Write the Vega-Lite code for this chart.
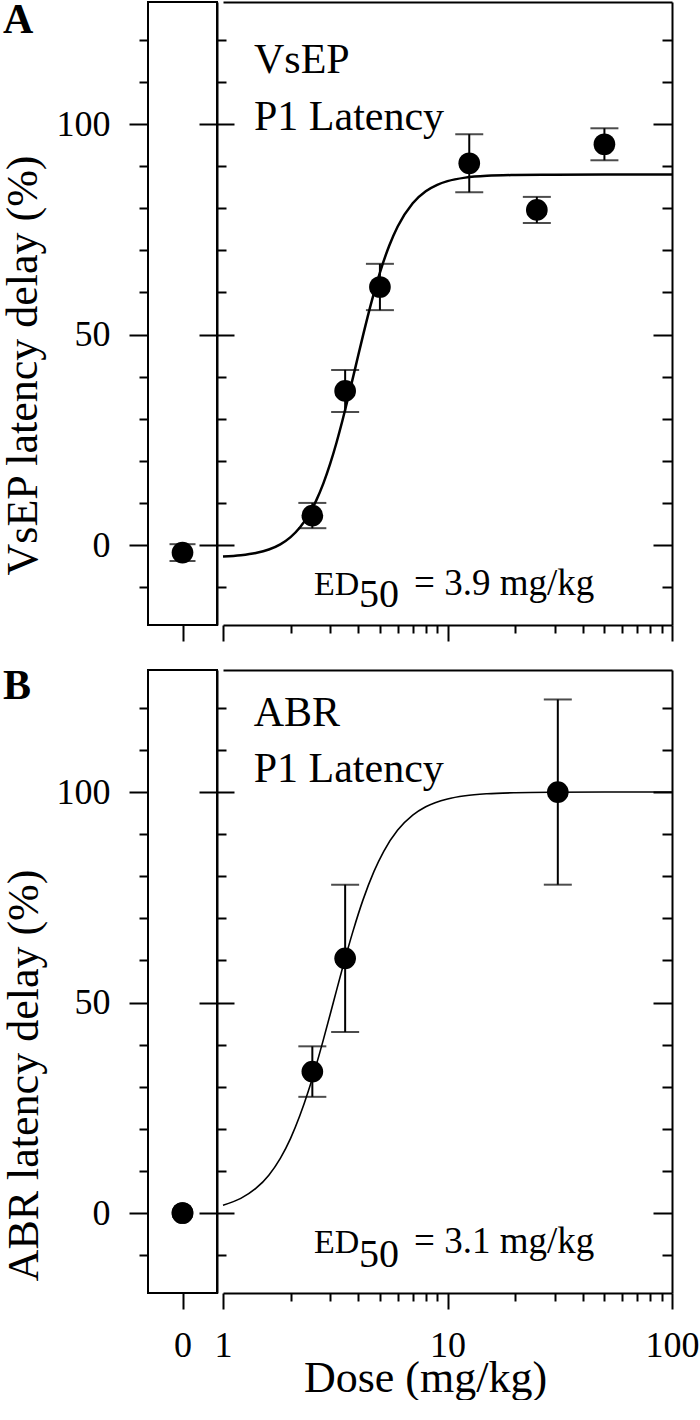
{
  "$schema": "https://vega.github.io/schema/vega-lite/v6.json",
  "padding": {"left": 0, "top": -2, "right": 0, "bottom": 0},
  "background": "white",
  "datasets": {
    "zeroA": [{"pos": 0, "val": -1.8, "lo": -3.8, "hi": 0.2}],
    "zeroB": [{"pos": 0, "val": 0, "lo": 0, "hi": 0}],
    "letterA": [{"label": "A", "pos": -5.2, "val": 121.6}],
    "letterB": [{"label": "B", "pos": -5.2, "val": 122.1}],
    "ptsA": [
      {"dose": 2.5, "val": 7, "lo": 4, "hi": 10},
      {"dose": 3.5, "val": 36.6, "lo": 31.6, "hi": 41.6},
      {"dose": 5, "val": 61.3, "lo": 55.8, "hi": 66.8},
      {"dose": 12.5, "val": 90.7, "lo": 83.8, "hi": 97.6},
      {"dose": 25, "val": 79.6, "lo": 76.5, "hi": 82.7},
      {"dose": 50, "val": 95.2, "lo": 91.4, "hi": 99}
    ],
    "ptsB": [
      {"dose": 2.5, "val": 33.6, "lo": 27.6, "hi": 39.6},
      {"dose": 3.5, "val": 60.5, "lo": 43, "hi": 78},
      {"dose": 31, "val": 100, "lo": 78, "hi": 122}
    ],
    "curveA": [
      {"dose": 1, "val": -2.74}, {"dose": 1.2, "val": -2.43}, {"dose": 1.4, "val": -1.9}, {"dose": 1.6, "val": -1.07},
      {"dose": 1.8, "val": 0.16}, {"dose": 2, "val": 1.87}, {"dose": 2.2, "val": 4.15}, {"dose": 2.4, "val": 7.03},
      {"dose": 2.6, "val": 10.55}, {"dose": 2.8, "val": 14.64}, {"dose": 3, "val": 19.25}, {"dose": 3.2, "val": 24.24},
      {"dose": 3.4, "val": 29.45}, {"dose": 3.6, "val": 34.74}, {"dose": 3.9, "val": 42.5}, {"dose": 4.2, "val": 49.69},
      {"dose": 4.6, "val": 58.0}, {"dose": 5, "val": 64.73}, {"dose": 5.5, "val": 71.1}, {"dose": 6, "val": 75.66},
      {"dose": 7, "val": 81.2}, {"dose": 8, "val": 84.04}, {"dose": 9, "val": 85.57}, {"dose": 10, "val": 86.44},
      {"dose": 12, "val": 87.28}, {"dose": 15, "val": 87.72}, {"dose": 20, "val": 87.9}, {"dose": 30, "val": 87.98},
      {"dose": 50, "val": 88}, {"dose": 100, "val": 88}
    ],
    "curveB": [
      {"dose": 1, "val": 1.87}, {"dose": 1.2, "val": 3.48}, {"dose": 1.4, "val": 5.83}, {"dose": 1.6, "val": 8.99},
      {"dose": 1.8, "val": 12.98}, {"dose": 2, "val": 17.74}, {"dose": 2.2, "val": 23.15}, {"dose": 2.4, "val": 28.99},
      {"dose": 2.6, "val": 35.08}, {"dose": 2.8, "val": 41.19}, {"dose": 3.1, "val": 50}, {"dose": 3.4, "val": 58.02},
      {"dose": 3.8, "val": 67.09}, {"dose": 4.2, "val": 74.33}, {"dose": 4.7, "val": 81.1}, {"dose": 5.2, "val": 85.94},
      {"dose": 6, "val": 90.98}, {"dose": 7, "val": 94.53}, {"dose": 8, "val": 96.51}, {"dose": 10, "val": 98.37},
      {"dose": 12, "val": 99.13}, {"dose": 15, "val": 99.6}, {"dose": 20, "val": 99.85}, {"dose": 30, "val": 99.96},
      {"dose": 50, "val": 100}, {"dose": 100, "val": 100}
    ],
    "bigA": [{"label": "VsEP", "dose": 1.374, "val": 112.1}, {"label": "P1 Latency", "dose": 1.374, "val": 98.6}],
    "bigB": [{"label": "ABR", "dose": 1.37, "val": 115.7}, {"label": "P1 Latency", "dose": 1.37, "val": 102.4}],
    "edA": [{"label": "ED", "dose": 2.543, "val": -11.9}],
    "subA": [{"label": "50", "dose": 4.035, "val": -14.7}],
    "restA": [{"label": "= 3.9 mg/kg", "dose": 7.094, "val": -11.9}],
    "edB": [{"label": "ED", "dose": 2.543, "val": -9.5}],
    "subB": [{"label": "50", "dose": 4.035, "val": -12.9}],
    "restB": [{"label": "= 3.1 mg/kg", "dose": 7.094, "val": -9.5}]
  },
  "vconcat": [
    {
      "bounds": "flush",
      "spacing": 6,
      "hconcat": [
        {
          "width": 69, "height": 623,
          "view": {"stroke": "black", "strokeWidth": 2},
          "data": {"name": "zeroA"},
          "layer": [
            {"mark": {"type": "rule", "color": "black", "strokeWidth": 2},
             "encoding": {
               "x": {"field": "pos", "type": "quantitative", "scale": {"domain": [-1, 1], "nice": false, "zero": false},
                     "axis": {"orient": "bottom", "values": [0], "tickSize": 16, "labels": false, "domain": false, "title": null}},
               "y": {"field": "lo", "type": "quantitative", "scale": {"domain": [-19, 129], "nice": false, "zero": false},
                     "axis": {"orient": "left", "values": [-10, 0, 10, 20, 30, 40, 50, 60, 70, 80, 90, 100, 110, 120],
                              "tickSize": {"expr": "datum.value % 50 === 0 ? 19 : 9"},
                              "labelExpr": "datum.value % 50 === 0 ? datum.label : ''",
                              "labelPadding": 19, "labelFontSize": 36, "domain": false,
                              "title": "VsEP latency delay (%)", "titleFontSize": 44, "titleX": -112, "titleY": 363,
                              "titleBaseline": "alphabetic", "titleAngle": 270, "titleAlign": "center"}},
               "y2": {"field": "hi"}
             }},
            {"mark": {"type": "tick", "orient": "horizontal", "color": "black", "size": 26, "thickness": 2},
             "encoding": {
               "x": {"field": "pos", "type": "quantitative", "scale": {"domain": [-1, 1], "nice": false, "zero": false}, "axis": null},
               "y": {"field": "lo", "type": "quantitative", "scale": {"domain": [-19, 129], "nice": false, "zero": false}, "axis": null}
             }},
            {"mark": {"type": "tick", "orient": "horizontal", "color": "black", "size": 26, "thickness": 2},
             "encoding": {
               "x": {"field": "pos", "type": "quantitative", "scale": {"domain": [-1, 1], "nice": false, "zero": false}, "axis": null},
               "y": {"field": "hi", "type": "quantitative", "scale": {"domain": [-19, 129], "nice": false, "zero": false}, "axis": null}
             }},
            {"mark": {"type": "circle", "color": "black", "size": 470, "opacity": 1},
             "encoding": {
               "x": {"field": "pos", "type": "quantitative", "scale": {"domain": [-1, 1], "nice": false, "zero": false}, "axis": null},
               "y": {"field": "val", "type": "quantitative", "scale": {"domain": [-19, 129], "nice": false, "zero": false},
                     "axis": {"orient": "right", "values": [0, 50, 100], "tickSize": {"expr": "-18"}, "labels": false, "domain": false, "title": null}}
             }},
            {"data": {"name": "letterA"},
             "mark": {"type": "text", "align": "left", "baseline": "alphabetic", "fontSize": 42, "fontWeight": "bold", "font": "Liberation Serif", "color": "black"},
             "encoding": {
               "x": {"field": "pos", "type": "quantitative", "scale": {"domain": [-1, 1], "nice": false, "zero": false}, "axis": null},
               "y": {"field": "val", "type": "quantitative", "scale": {"domain": [-19, 129], "nice": false, "zero": false}, "axis": null},
               "text": {"field": "label"}
             }}
          ],
          "resolve": {"axis": {"x": "independent", "y": "independent"}}
        },
        {
          "width": 449, "height": 623,
          "layer": [
            {"data": {"name": "curveA"},
             "mark": {"type": "line", "color": "black", "strokeWidth": 2.5, "interpolate": "monotone"},
             "encoding": {
               "x": {"field": "dose", "type": "quantitative", "scale": {"type": "log", "domain": [1, 100], "nice": false},
                     "axis": {"orient": "bottom", "values": [1, 2, 3, 4, 5, 6, 7, 8, 9, 10, 20, 30, 40, 50, 60, 70, 80, 90, 100],
                              "tickSize": {"expr": "datum.value == 1 || datum.value == 10 || datum.value == 100 ? 16 : 8"},
                              "labels": false, "domain": true, "title": null}},
               "y": {"field": "val", "type": "quantitative", "scale": {"domain": [-19, 129], "nice": false, "zero": false},
                     "axis": {"orient": "left", "offset": 6, "values": [-10, 0, 10, 20, 30, 40, 50, 60, 70, 80, 90, 100, 110, 120],
                              "tickSize": {"expr": "datum.value % 50 === 0 ? -17 : -9"}, "labels": false, "domain": true, "title": null}}
             }},
            {"data": {"name": "ptsA"},
             "mark": {"type": "rule", "color": "black", "strokeWidth": 2},
             "encoding": {
               "x": {"field": "dose", "type": "quantitative", "scale": {"type": "log", "domain": [1, 100], "nice": false},
                     "axis": {"orient": "top", "ticks": false, "labels": false, "domain": true, "title": null}},
               "y": {"field": "lo", "type": "quantitative", "scale": {"domain": [-19, 129], "nice": false, "zero": false},
                     "axis": {"orient": "right", "values": [-10, 0, 10, 20, 30, 40, 50, 60, 70, 80, 90, 100, 110, 120],
                              "tickSize": {"expr": "datum.value % 50 === 0 ? -19 : -10"}, "labels": false, "domain": true, "title": null}},
               "y2": {"field": "hi"}
             }},
            {"data": {"name": "ptsA"},
             "mark": {"type": "tick", "orient": "horizontal", "color": "black", "size": 28, "thickness": 2},
             "encoding": {
               "x": {"field": "dose", "type": "quantitative", "scale": {"type": "log", "domain": [1, 100], "nice": false}, "axis": null},
               "y": {"field": "lo", "type": "quantitative", "scale": {"domain": [-19, 129], "nice": false, "zero": false}, "axis": null}
             }},
            {"data": {"name": "ptsA"},
             "mark": {"type": "tick", "orient": "horizontal", "color": "black", "size": 28, "thickness": 2},
             "encoding": {
               "x": {"field": "dose", "type": "quantitative", "scale": {"type": "log", "domain": [1, 100], "nice": false}, "axis": null},
               "y": {"field": "hi", "type": "quantitative", "scale": {"domain": [-19, 129], "nice": false, "zero": false}, "axis": null}
             }},
            {"data": {"name": "ptsA"},
             "mark": {"type": "circle", "color": "black", "size": 470, "opacity": 1},
             "encoding": {
               "x": {"field": "dose", "type": "quantitative", "scale": {"type": "log", "domain": [1, 100], "nice": false}, "axis": null},
               "y": {"field": "val", "type": "quantitative", "scale": {"domain": [-19, 129], "nice": false, "zero": false}, "axis": null}
             }},
            {"data": {"name": "bigA"},
             "mark": {"type": "text", "align": "left", "baseline": "alphabetic", "fontSize": 42, "font": "Liberation Serif", "color": "black"},
             "encoding": {
               "x": {"field": "dose", "type": "quantitative", "scale": {"type": "log", "domain": [1, 100], "nice": false}, "axis": null},
               "y": {"field": "val", "type": "quantitative", "scale": {"domain": [-19, 129], "nice": false, "zero": false}, "axis": null},
               "text": {"field": "label"}
             }},
            {"data": {"name": "edA"},
             "mark": {"type": "text", "align": "left", "baseline": "alphabetic", "fontSize": 34, "font": "Liberation Serif", "color": "black"},
             "encoding": {
               "x": {"field": "dose", "type": "quantitative", "scale": {"type": "log", "domain": [1, 100], "nice": false}, "axis": null},
               "y": {"field": "val", "type": "quantitative", "scale": {"domain": [-19, 129], "nice": false, "zero": false}, "axis": null},
               "text": {"field": "label"}
             }},
            {"data": {"name": "subA"},
             "mark": {"type": "text", "align": "left", "baseline": "alphabetic", "fontSize": 40, "font": "Liberation Serif", "color": "black"},
             "encoding": {
               "x": {"field": "dose", "type": "quantitative", "scale": {"type": "log", "domain": [1, 100], "nice": false}, "axis": null},
               "y": {"field": "val", "type": "quantitative", "scale": {"domain": [-19, 129], "nice": false, "zero": false}, "axis": null},
               "text": {"field": "label"}
             }},
            {"data": {"name": "restA"},
             "mark": {"type": "text", "align": "left", "baseline": "alphabetic", "fontSize": 37, "font": "Liberation Serif", "color": "black"},
             "encoding": {
               "x": {"field": "dose", "type": "quantitative", "scale": {"type": "log", "domain": [1, 100], "nice": false}, "axis": null},
               "y": {"field": "val", "type": "quantitative", "scale": {"domain": [-19, 129], "nice": false, "zero": false}, "axis": null},
               "text": {"field": "label"}
             }}
          ],
          "resolve": {"axis": {"x": "independent", "y": "independent"}}
        }
      ]
    },
    {
      "bounds": "flush",
      "spacing": 6,
      "hconcat": [
        {
          "width": 69, "height": 623,
          "view": {"stroke": "black", "strokeWidth": 2},
          "data": {"name": "zeroB"},
          "layer": [
            {"mark": {"type": "circle", "color": "black", "size": 470, "opacity": 1},
             "encoding": {
               "x": {"field": "pos", "type": "quantitative", "scale": {"domain": [-1, 1], "nice": false, "zero": false},
                     "axis": {"orient": "bottom", "values": [0], "tickSize": 16, "labels": true, "labelPadding": 19, "labelFontSize": 36, "domain": false, "title": null}},
               "y": {"field": "val", "type": "quantitative", "scale": {"domain": [-19, 129], "nice": false, "zero": false},
                     "axis": {"orient": "left", "values": [-10, 0, 10, 20, 30, 40, 50, 60, 70, 80, 90, 100, 110, 120],
                              "tickSize": {"expr": "datum.value % 50 === 0 ? 19 : 9"},
                              "labelExpr": "datum.value % 50 === 0 ? datum.label : ''",
                              "labelPadding": 19, "labelFontSize": 36, "domain": false,
                              "title": "ABR latency delay (%)", "titleFontSize": 44, "titleX": -111, "titleY": 405,
                              "titleBaseline": "alphabetic", "titleAngle": 270, "titleAlign": "center"}}
             }},
            {"mark": {"type": "circle", "color": "black", "size": 470, "opacity": 1},
             "encoding": {
               "x": {"field": "pos", "type": "quantitative", "scale": {"domain": [-1, 1], "nice": false, "zero": false}, "axis": null},
               "y": {"field": "val", "type": "quantitative", "scale": {"domain": [-19, 129], "nice": false, "zero": false},
                     "axis": {"orient": "right", "values": [0, 50, 100], "tickSize": {"expr": "-18"}, "labels": false, "domain": false, "title": null}}
             }},
            {"data": {"name": "letterB"},
             "mark": {"type": "text", "align": "left", "baseline": "alphabetic", "fontSize": 42, "fontWeight": "bold", "font": "Liberation Serif", "color": "black"},
             "encoding": {
               "x": {"field": "pos", "type": "quantitative", "scale": {"domain": [-1, 1], "nice": false, "zero": false}, "axis": null},
               "y": {"field": "val", "type": "quantitative", "scale": {"domain": [-19, 129], "nice": false, "zero": false}, "axis": null},
               "text": {"field": "label"}
             }}
          ],
          "resolve": {"axis": {"x": "independent", "y": "independent"}}
        },
        {
          "width": 449, "height": 623,
          "layer": [
            {"data": {"name": "curveB"},
             "mark": {"type": "line", "color": "black", "strokeWidth": 1.6, "interpolate": "monotone"},
             "encoding": {
               "x": {"field": "dose", "type": "quantitative", "scale": {"type": "log", "domain": [1, 100], "nice": false},
                     "axis": {"orient": "bottom", "values": [1, 2, 3, 4, 5, 6, 7, 8, 9, 10, 20, 30, 40, 50, 60, 70, 80, 90, 100],
                              "tickSize": {"expr": "datum.value == 1 || datum.value == 10 || datum.value == 100 ? 16 : 8"},
                              "labels": true, "labelPadding": 19, "labelFontSize": 36,
                              "labelExpr": "datum.value == 1 ? '1' : datum.value == 10 ? '10' : datum.value == 100 ? '100' : ''",
                              "domain": true,
                              "title": "Dose (mg/kg)", "titleFontSize": 44, "titleX": 202, "titleY": 98, "titleBaseline": "alphabetic", "titleAlign": "center"}},
               "y": {"field": "val", "type": "quantitative", "scale": {"domain": [-19, 129], "nice": false, "zero": false},
                     "axis": {"orient": "left", "offset": 6, "values": [-10, 0, 10, 20, 30, 40, 50, 60, 70, 80, 90, 100, 110, 120],
                              "tickSize": {"expr": "datum.value % 50 === 0 ? -17 : -9"}, "labels": false, "domain": true, "title": null}}
             }},
            {"data": {"name": "ptsB"},
             "mark": {"type": "rule", "color": "black", "strokeWidth": 2},
             "encoding": {
               "x": {"field": "dose", "type": "quantitative", "scale": {"type": "log", "domain": [1, 100], "nice": false},
                     "axis": {"orient": "top", "ticks": false, "labels": false, "domain": true, "title": null}},
               "y": {"field": "lo", "type": "quantitative", "scale": {"domain": [-19, 129], "nice": false, "zero": false},
                     "axis": {"orient": "right", "values": [-10, 0, 10, 20, 30, 40, 50, 60, 70, 80, 90, 100, 110, 120],
                              "tickSize": {"expr": "datum.value % 50 === 0 ? -19 : -10"}, "labels": false, "domain": true, "title": null}},
               "y2": {"field": "hi"}
             }},
            {"data": {"name": "ptsB"},
             "mark": {"type": "tick", "orient": "horizontal", "color": "black", "size": 28, "thickness": 2},
             "encoding": {
               "x": {"field": "dose", "type": "quantitative", "scale": {"type": "log", "domain": [1, 100], "nice": false}, "axis": null},
               "y": {"field": "lo", "type": "quantitative", "scale": {"domain": [-19, 129], "nice": false, "zero": false}, "axis": null}
             }},
            {"data": {"name": "ptsB"},
             "mark": {"type": "tick", "orient": "horizontal", "color": "black", "size": 28, "thickness": 2},
             "encoding": {
               "x": {"field": "dose", "type": "quantitative", "scale": {"type": "log", "domain": [1, 100], "nice": false}, "axis": null},
               "y": {"field": "hi", "type": "quantitative", "scale": {"domain": [-19, 129], "nice": false, "zero": false}, "axis": null}
             }},
            {"data": {"name": "ptsB"},
             "mark": {"type": "circle", "color": "black", "size": 470, "opacity": 1},
             "encoding": {
               "x": {"field": "dose", "type": "quantitative", "scale": {"type": "log", "domain": [1, 100], "nice": false}, "axis": null},
               "y": {"field": "val", "type": "quantitative", "scale": {"domain": [-19, 129], "nice": false, "zero": false}, "axis": null}
             }},
            {"data": {"name": "bigB"},
             "mark": {"type": "text", "align": "left", "baseline": "alphabetic", "fontSize": 42, "font": "Liberation Serif", "color": "black"},
             "encoding": {
               "x": {"field": "dose", "type": "quantitative", "scale": {"type": "log", "domain": [1, 100], "nice": false}, "axis": null},
               "y": {"field": "val", "type": "quantitative", "scale": {"domain": [-19, 129], "nice": false, "zero": false}, "axis": null},
               "text": {"field": "label"}
             }},
            {"data": {"name": "edB"},
             "mark": {"type": "text", "align": "left", "baseline": "alphabetic", "fontSize": 34, "font": "Liberation Serif", "color": "black"},
             "encoding": {
               "x": {"field": "dose", "type": "quantitative", "scale": {"type": "log", "domain": [1, 100], "nice": false}, "axis": null},
               "y": {"field": "val", "type": "quantitative", "scale": {"domain": [-19, 129], "nice": false, "zero": false}, "axis": null},
               "text": {"field": "label"}
             }},
            {"data": {"name": "subB"},
             "mark": {"type": "text", "align": "left", "baseline": "alphabetic", "fontSize": 40, "font": "Liberation Serif", "color": "black"},
             "encoding": {
               "x": {"field": "dose", "type": "quantitative", "scale": {"type": "log", "domain": [1, 100], "nice": false}, "axis": null},
               "y": {"field": "val", "type": "quantitative", "scale": {"domain": [-19, 129], "nice": false, "zero": false}, "axis": null},
               "text": {"field": "label"}
             }},
            {"data": {"name": "restB"},
             "mark": {"type": "text", "align": "left", "baseline": "alphabetic", "fontSize": 37, "font": "Liberation Serif", "color": "black"},
             "encoding": {
               "x": {"field": "dose", "type": "quantitative", "scale": {"type": "log", "domain": [1, 100], "nice": false}, "axis": null},
               "y": {"field": "val", "type": "quantitative", "scale": {"domain": [-19, 129], "nice": false, "zero": false}, "axis": null},
               "text": {"field": "label"}
             }}
          ],
          "resolve": {"axis": {"x": "independent", "y": "independent"}}
        }
      ]
    }
  ],
  "spacing": 21,
  "bounds": "full",
  "config": {
    "view": {"stroke": null},
    "font": "Liberation Serif",
    "axis": {
      "labelFont": "Liberation Serif", "titleFont": "Liberation Serif", "labelColor": "black", "titleColor": "black",
      "tickColor": "black", "domainColor": "black", "tickWidth": 2, "domainWidth": 2, "grid": false,
      "titleFontWeight": "normal", "labelOverlap": false, "labelFlush": false, "labelFontSize": 36, "ticks": true
    },
    "tick": {"bandSize": 28}
  }
}
